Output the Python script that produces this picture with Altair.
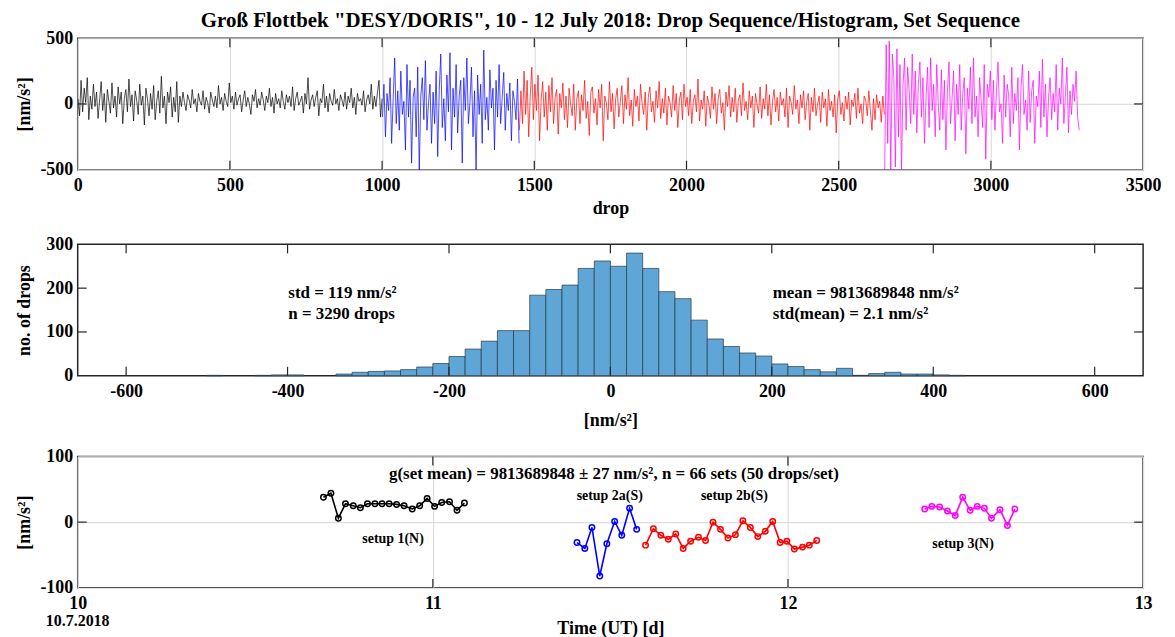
import altair as alt
import pandas as pd

FONT = "Liberation Serif"
TITLE = 'Groß Flottbek "DESY/DORIS", 10 - 12 July 2018: Drop Sequence/Histogram, Set Sequence'

# ---------------- drop sequence (about every 5th drop, nm/s^2 about the mean) ----------
drops_setup1 = [
    40, -90, 180, -60, 120, 10, 200, -120, 60, -40, 150, -20, 90, -110, 30, 170, -50, 80,
    -140, 110, 20, -70, 160, -30, 60, -100, 130, 0, 90, -150, 40, 110, -60, 190, -20, 70,
    -130, 100, 30, -80, 150, -10, 60, -160, 120, 40, -90, 80, -40, 140, -120, 20, 100, -70,
    210, -30, 60, -150, 90, 10, 130, -100, 50, -60, 170, -140,
    60, -20, 90, 10, -50, 70, 30, -30, 110, 0, 40, -60, 80, 20, -10, 100, -40, 50, 10, -70,
    90, 30, -20, 60, -30, 140, 0, 50, -50, 80, 20, -20, 160, 10, 60, -40, 90, -10, 40, 70,
    -60, 30, 100, -20, 50, 0, -80, 70, 20, 110, -30, 40, -10, 90, 30, -50, 60, 10, 120, -20,
    50, -70, 80, 0, 40, -30, 100, 20, -40, 70, 10, 60, -20, 130, -50, 40, 90, -10, 20, 60,
    -70, 80, 0, 200, -40, 30, 70, -20, 50, 100, -90, 40, 10, 150, -30, 60, -60, 80, 20, -10,
    110, 0, 40, -50, 70, 30, -20, 90, -40, 60, 10, 120, -30, 50, -80, 80, 20, 40, -10, 100,
    -60, 30, 70, 0, 150, -40, 60, -20, 90, 180, -100, 40,
]
drops_setup2a = [
    -100, 150, -250, 80, -50, 200, -300, 30, 350, -150, 100, -200, 250, -80, 20, -350, 300,
    -100, 180, -450, 50, 120, -250, 280, -520, 60, 200, -120, 330, -200, 0, 150, -300, 90,
    -150, 250, -400, 100, 380, -180, 40, -280, 220, -60, 390, -350, 120, -100, 300, -220, 60,
    180, -450, 200, -50, 350, -150, 10, 280, -250, 100, -520, 220, -80, 150, -300, 410, -120,
    50, -200, 260, -30, 120, -350, 180, -100, 300, -150, 50, 240, -200, 80, -50, 160, -280,
    100, 20, -120, 190, -300,
]
drops_setup2b = [
    -200, 100, -150, 250, -80, 180, -250, 60, 280, -120, 150, -50, 220, -280, 30, 170, -100,
    90, -200, 140, -60, 200, -150, 50, 110, -230, 80, -30, 160, -120, 60, -180, 120, 0, -90,
    150, -200, 40, 100, -150, 70, -50, 180, -110, 20, -240, 90, 130, -70, 40, -160, 110, -30,
    150, -280, 60, 10, -120, 170, -60, 80, -190, 40, 120, -100, 20, 140, -150, 70, -40, 200,
    -90, 30, -170, 110, -20, 60, -130, 150, 0, -80, 90, -200, 50, 130, -60, 20, -140, 100,
    -30, 170, -110, 40, -70, 120, -160, 60, 10, -100, 140, -50, 80, -180, 30, 90, -120, 150,
    -20, 50, -90, 110, -150, 20, 70, -60, 190, -130, 30, -40, 100, -170, 60, 0, -110, 130,
    -40, 80, -150, 40, 110, -70, 10, -200, 90, -20, 140, -100, 50, -60, 120, -140, 30, 70,
    -90, 160, -50, 20, -120, 100, -30, 60, -180, 80, 0, -70, 130, -110, 40, -40, 150, -90,
    70, -160, 20, 110, -60, 50, -130, 90, -10, 40, -100, 120, -180, 60, 10, -80, 140, -40,
    30, -150, 70, -30, 100, -120, 20, 80, -200, 50, -60, 120, -90, 0, 60, -140, 90, -30, 40,
    -170, 110, -50, 20, -100, 70, -220, 40, 100, -80, 10, -130, 60, -40, 90, -160, 30, -20,
    80, -110, 120, -70, 0, -150, 60, 30, -90, 100, -50, -200, 40, -120, 70, -30, 20, -140,
    60, -80,
]
drops_setup3 = [
    -520, 450, -300, 480, -530, 380, 200, -480, 420, -250, 300, -520, 150, 350, -200, 280,
    100, -150, 380, -80, 250, -220, 150, 320, -100, 200, -300, 50, 280, -180, 350, -50, 150,
    -250, 300, 0, -200, 260, -120, 180, -350, 100, 320, -150, 40, 250, -280, 150, -80, 300,
    -200, 80, 200, -380, 120, -40, 280, -150, 350, -100, 60, -250, 200, 20, -180, 300, -420,
    150, 50, 250, -120, 180, -200, 100, 320, -60, 0, -300, 220, -100, 150, 60, -250, 280,
    -150, 80, -50, 200, -350, 120, 300, -80, 30, -200, 250, -140, 100, 180, -300, 60, -20,
    250, -180, 340, -100, 150, -250, 50, 200, -120, 80, -60, 300, -200, 120, 0, 350, -150,
    60, 280, -220, 100, -80, 150, 20, 250, -100, -200,
]
drop_ranges = [(1, 1000), (1001, 1450), (1451, 2650), (2651, 3290)]
setup_names = ["setup 1(N)", "setup 2a(S)", "setup 2b(S)", "setup 3(N)"]
setup_colors = ["#000000", "#0000ff", "#ff0000", "#ff00ff"]

# ---------------- histogram (bin start, 20 nm/s^2 wide) ----------------
hist_bin_start = [-500, -440, -420, -400,
                  -340, -320, -300, -280, -260, -240, -220, -200, -180, -160, -140, -120,
                  -100, -80, -60, -40, -20, 0, 20, 40, 60, 80, 100, 120, 140, 160, 180,
                  200, 220, 240, 260, 280, 300, 320, 340, 360, 380, 400, 420]
hist_counts = [1, 1, 2, 2,
               4, 8, 10, 11, 14, 20, 28, 44, 61, 79, 103, 103,
               184, 197, 207, 245, 262, 250, 280, 245, 192, 176, 127, 84, 67, 52, 45,
               27, 21, 14, 9, 17, 1, 5, 8, 4, 4, 2, 1]
HIST_BIN = 20

# ---------------- set means ----------------
set1_t = [10.692, 10.713, 10.734, 10.754, 10.776, 10.796, 10.816, 10.837, 10.857, 10.877,
          10.898, 10.919, 10.942, 10.963, 10.984, 11.005, 11.025, 11.047, 11.068, 11.089]
set1_g = [38, 44, 6, 28, 25, 22, 28, 28, 28, 28, 27, 25, 20, 25, 36, 24, 30, 31, 18, 29]
set2a_t = [11.406, 11.428, 11.448, 11.470, 11.490, 11.512, 11.532, 11.554, 11.574]
set2a_g = [-31, -40, -8, -82, -33, 1, -20, 21, -11]
set2b_t = [11.599, 11.621, 11.642, 11.663, 11.684, 11.705, 11.726, 11.748, 11.768, 11.789,
           11.810, 11.831, 11.852, 11.873, 11.894, 11.915, 11.936, 11.957, 11.978, 11.997,
           12.018, 12.041, 12.060, 12.081]
set2b_g = [-35, -10, -20, -26, -18, -40, -29, -23, -28, 0, -11, -24, -19, 2, -8, -22, -14,
           1, -31, -29, -41, -38, -35, -28]
set3_t = [12.385, 12.405, 12.427, 12.449, 12.471, 12.492, 12.513, 12.533, 12.553, 12.573,
          12.597, 12.618, 12.639]
set3_g = [20, 24, 23, 17, 10, 38, 18, 24, 21, 6, 19, -5, 20]

W, H = 1070, 132
TICK_LEN = 9
color_scale = alt.Scale(domain=setup_names, range=setup_colors)
LBL = "'' + datum.value"
YAX = dict(minExtent=38, maxExtent=38, titlePadding=6, labelPadding=5, labelExpr=LBL)


def panel_ticks(xf, yf, X, Y, xvals, yvals):
    """Inward tick marks on all four sides, drawn through the panel's scales."""
    xt = alt.Chart(pd.DataFrame({xf: xvals})).mark_rule(color="#262626", strokeWidth=1.2)
    yt = alt.Chart(pd.DataFrame({yf: yvals})).mark_rule(color="#262626", strokeWidth=1.2)
    return [
        xt.encode(x=X, y=alt.value(0), y2=alt.value(TICK_LEN)),
        xt.encode(x=X, y=alt.value(H - TICK_LEN), y2=alt.value(H)),
        yt.encode(y=Y, x=alt.value(0), x2=alt.value(TICK_LEN)),
        yt.encode(y=Y, x=alt.value(W - TICK_LEN), x2=alt.value(W)),
    ]


# ---------------- top panel ----------------
rows = []
for name, vals, (a, b) in zip(setup_names, [drops_setup1, drops_setup2a, drops_setup2b, drops_setup3], drop_ranges):
    n = len(vals)
    for i, v in enumerate(vals):
        rows.append({"drop": a + (b - a) * i / (n - 1), "g": v, "setup": name})
drop_df = pd.DataFrame(rows)

X_top = alt.X("drop:Q", scale=alt.Scale(domain=[0, 3500], nice=False, zero=False),
              axis=alt.Axis(values=list(range(0, 3501, 500)), title="drop", grid=True,
                            titlePadding=5, labelExpr=LBL))
Y_top = alt.Y("g:Q", scale=alt.Scale(domain=[-500, 500], nice=False, zero=False),
              axis=alt.Axis(values=[-500, 0, 500], title="[nm/s²]", grid=True, **YAX))
top_line = alt.Chart(drop_df).mark_line(strokeWidth=0.7, clip=True).encode(
    x=X_top, y=Y_top,
    color=alt.Color("setup:N", scale=color_scale, legend=None),
    detail="setup:N",
)
top = alt.layer(
    top_line, *panel_ticks("drop", "g", X_top, Y_top, list(range(500, 3001, 500)), [0])
).properties(
    width=W, height=H,
    title=alt.TitleParams(TITLE, fontSize=21, font=FONT, fontWeight="bold", anchor="middle",
                          frame="group", offset=-2, color="black"),
)

# ---------------- middle panel ----------------
hist_df = pd.DataFrame({"v": hist_bin_start,
                        "v_end": [s + HIST_BIN for s in hist_bin_start],
                        "n": hist_counts,
                        "n0": [0] * len(hist_counts)})
X_mid = alt.X("v:Q", scale=alt.Scale(domain=[-660, 660], nice=False, zero=False),
              axis=alt.Axis(values=list(range(-600, 601, 200)), title="[nm/s²]", grid=False,
                            titlePadding=11, labelExpr=LBL))
Y_mid = alt.Y("n:Q", scale=alt.Scale(domain=[0, 300], nice=False, zero=False),
              axis=alt.Axis(values=[0, 100, 200, 300], title="no. of drops", grid=False, **YAX))
bars = alt.Chart(hist_df).mark_bar(color="#5fa6d6", stroke="#24384a", strokeWidth=0.7).encode(
    x=X_mid, x2="v_end:Q", y=Y_mid, y2="n0:Q",
)
mid_ann = pd.DataFrame({
    "v": [-399, -399, 201, 201],
    "n": [190, 142, 190, 142],
    "label": ["std = 119 nm/s²", "n = 3290 drops", "mean = 9813689848 nm/s²",
              "std(mean) = 2.1 nm/s²"],
})
mid_text = alt.Chart(mid_ann).mark_text(align="left", baseline="middle", fontSize=17,
                                        fontWeight="bold", font=FONT, color="black").encode(
    x=X_mid, y=Y_mid, text="label:N",
)
mid = alt.layer(
    bars, mid_text, *panel_ticks("v", "n", X_mid, Y_mid, list(range(-600, 601, 200)), [100, 200])
).properties(width=W, height=H)

# ---------------- bottom panel ----------------
srows = []
for name, ts, gs in zip(setup_names, [set1_t, set2a_t, set2b_t, set3_t],
                        [set1_g, set2a_g, set2b_g, set3_g]):
    for t, g in zip(ts, gs):
        srows.append({"t": t, "g": g, "setup": name})
set_df = pd.DataFrame(srows)
X_bot = alt.X("t:Q", scale=alt.Scale(domain=[10, 13], nice=False, zero=False),
              axis=alt.Axis(values=[10, 11, 12, 13], title="Time (UT) [d]", grid=True,
                            titlePadding=7, labelExpr=LBL))
Y_bot = alt.Y("g:Q", scale=alt.Scale(domain=[-100, 100], nice=False, zero=False),
              axis=alt.Axis(values=[-100, 0, 100], title="[nm/s²]", grid=True, **YAX))
C_bot = alt.Color("setup:N", scale=color_scale, legend=None)
set_line = alt.Chart(set_df).mark_line(strokeWidth=1.6).encode(
    x=X_bot, y=Y_bot, color=C_bot, detail="setup:N")
set_pts = alt.Chart(set_df).mark_point(shape="circle", filled=False, size=30,
                                       strokeWidth=1.5, opacity=1).encode(
    x=X_bot, y=Y_bot, color=C_bot)
lab_df = pd.DataFrame({
    "t": [10.888, 11.498, 11.849, 12.493],
    "g": [-25, 40, 40, -34],
    "label": setup_names,
})
set_labels = alt.Chart(lab_df).mark_text(fontSize=14, fontWeight="bold", font=FONT,
                                         color="black", baseline="middle").encode(
    x=X_bot, y=Y_bot, text="label:N")
main_ann = pd.DataFrame({"t": [11.51], "g": [73],
                         "label": ["g(set mean) = 9813689848 ± 27 nm/s², n = 66 sets (50 drops/set)"]})
main_text = alt.Chart(main_ann).mark_text(fontSize=17, fontWeight="bold", font=FONT,
                                          color="black", baseline="middle").encode(
    x=X_bot, y=Y_bot, text="label:N")
date_df = pd.DataFrame({"t": [10], "label": ["10.7.2018"]})
date_text = alt.Chart(date_df).mark_text(fontSize=16, fontWeight="bold", font=FONT,
                                         color="black", baseline="middle").encode(
    x=X_bot, y=alt.value(H + 33), text="label:N")
bot = alt.layer(
    set_line, set_pts, set_labels, main_text, date_text,
    *panel_ticks("t", "g", X_bot, Y_bot, [11, 12], [0])
).properties(width=W, height=H)

chart = alt.vconcat(top, mid, bot, spacing=16).properties(
    padding={"left": 7, "top": 0, "right": 5, "bottom": 0}
).configure(font=FONT).configure_view(
    stroke="#262626", strokeWidth=1.5
).configure_axis(
    labelFont=FONT, labelFontSize=18, labelFontWeight="bold", labelColor="black",
    titleFont=FONT, titleFontSize=18, titleFontWeight="bold", titleColor="black",
    ticks=False, domain=False, gridColor="#dedede", gridWidth=1.2,
    labelFlush=False, labelOverlap=False,
).configure_axisX(labelPadding=7)

chart.save("out.html", embed_options={"renderer": "svg", "actions": False})
